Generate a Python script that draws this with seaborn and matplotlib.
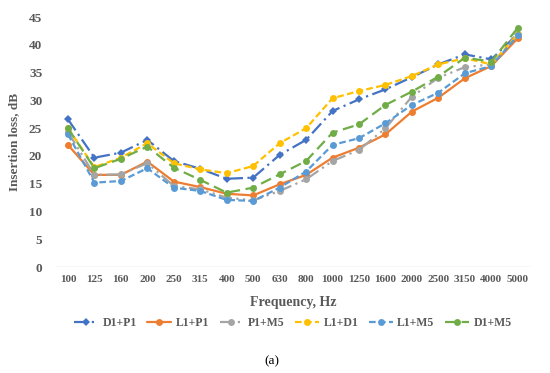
import matplotlib
matplotlib.use("Agg")
import matplotlib.pyplot as plt
import seaborn as sns
import pandas as pd

freqs = ["100", "125", "160", "200", "250", "315", "400", "500", "630", "800",
         "1000", "1250", "1600", "2000", "2500", "3150", "4000", "5000"]
d1_p1 = [26.6, 19.7, 20.6, 22.9, 19.1, 17.7, 15.9, 16.1, 20.2, 22.9, 28.1, 30.2, 32.0, 34.2, 36.5, 38.3, 37.4, 42.0]
l1_p1 = [22.0, 16.6, 16.6, 19.0, 15.4, 14.4, 13.2, 12.9, 14.9, 16.6, 19.7, 21.5, 23.9, 28.0, 30.5, 34.0, 36.2, 41.2]
p1_m5 = [24.3, 16.6, 16.7, 18.7, 14.6, 14.0, 12.5, 12.0, 13.7, 15.8, 19.1, 21.1, 25.0, 30.7, 34.1, 36.0, 36.5, 41.8]
l1_d1 = [25.0, 18.0, 19.7, 22.3, 18.7, 17.6, 16.9, 18.2, 22.3, 25.0, 30.4, 31.7, 32.8, 34.4, 36.5, 37.6, 36.5, 42.0]
l1_m5 = [23.9, 15.2, 15.5, 17.8, 14.3, 13.7, 12.1, 11.9, 14.3, 17.2, 22.0, 23.2, 25.9, 29.2, 31.4, 34.9, 36.2, 41.7]
d1_m5 = [25.0, 17.8, 19.5, 21.7, 17.9, 15.7, 13.4, 14.3, 16.7, 19.1, 24.2, 25.7, 29.2, 31.6, 34.3, 37.7, 37.0, 43.1]

series_names = ["D1+P1", "L1+P1", "P1+M5", "L1+D1", "L1+M5", "D1+M5"]
series_vals = [d1_p1, l1_p1, p1_m5, l1_d1, l1_m5, d1_m5]
colors = ["#4472C4", "#ED7D31", "#A5A5A5", "#FFC000", "#5B9BD5", "#70AD47"]
dashes = [(6, 2, 1, 2), None, (6, 2, 1, 2, 1, 2), (3, 1.5), (3, 1.5), (5, 2.5)]
markers = ["D", "o", "o", "o", "o", "o"]

sns.set_theme(style="white")
plt.rcParams["font.family"] = ["Liberation Serif", "DejaVu Serif"]

fig = plt.figure(figsize=(5.5, 3.73), dpi=100)
ax = fig.add_axes([0.0995, 0.284, 0.866, 0.670])

xpos = list(range(len(freqs)))
for name, vals, c, d, m in zip(series_names, series_vals, colors, dashes, markers):
    df = pd.DataFrame({"x": xpos, "y": vals})
    sns.lineplot(data=df, x="x", y="y", ax=ax, color=c, lw=1.6, marker=m,
                 markersize=5 if m == "o" else 4.2, markeredgewidth=0,
                 label=name)
    line = ax.lines[-1]
    if d is None:
        line.set_linestyle("-")
    else:
        line.set_dashes(d)

ax.set_xlim(-0.5, len(freqs) - 0.5)
ax.set_ylim(0, 45)
ax.set_yticks(range(0, 46, 5))
ax.set_xticks(xpos)
ax.set_xticklabels(freqs)
ax.tick_params(axis="x", labelsize=8, colors="#595959", length=0, pad=6)
ax.tick_params(axis="y", labelsize=9.5, colors="#595959", length=0, pad=9)
for lab in ax.get_xticklabels() + ax.get_yticklabels():
    lab.set_fontweight("bold")
ax.axhline(0, color="#D9D9D9", lw=1, zorder=0)
for s in ax.spines.values():
    s.set_visible(False)
ax.grid(False)

ax.set_xlabel("Frequency, Hz", fontsize=10, fontweight="bold", color="#595959", labelpad=8)
ax.set_ylabel("Insertion loss, dB", fontsize=9.5, fontweight="bold", color="#595959", labelpad=6)

leg = ax.legend(loc="center", bbox_to_anchor=(0.5, -0.224), ncol=6, frameon=False,
                fontsize=8.5, handlelength=2.0, columnspacing=0.9, handletextpad=0.4)
for t in leg.get_texts():
    t.set_fontweight("bold")
    t.set_color("#595959")

fig.text(0.495, 0.032, "(a)", fontsize=9.5, ha="center", va="center", color="black")

fig.savefig("out.png", dpi=100)
